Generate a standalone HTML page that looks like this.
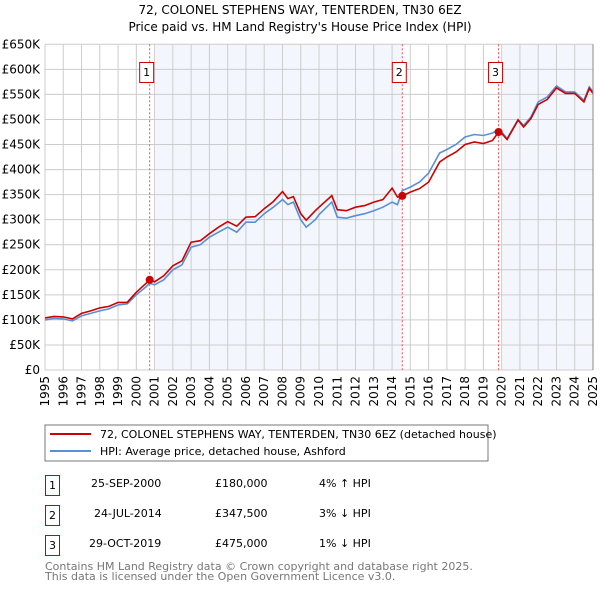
<!DOCTYPE html>
<html><head><meta charset="utf-8"><style>
body{margin:0;background:#fff;font-family:"Liberation Sans","DejaVu Sans",sans-serif;}
svg text{font-family:"DejaVu Sans","Liberation Sans",sans-serif;}
</style></head><body>
<svg id="c" width="600" height="590" xmlns="http://www.w3.org/2000/svg">
<text x="300" y="14" text-anchor="middle" font-size="12">72, COLONEL STEPHENS WAY, TENTERDEN, TN30 6EZ</text>
<text x="300" y="31" text-anchor="middle" font-size="12">Price paid vs. HM Land Registry's House Price Index (HPI)</text>
<g id="plot"></g>
<rect x="45" y="425" width="443" height="36" fill="#fff" stroke="#777"/>
<line x1="50" y1="434" x2="91" y2="434" stroke="#cc0000" stroke-width="2"/>
<text x="100" y="438" font-size="11">72, COLONEL STEPHENS WAY, TENTERDEN, TN30 6EZ (detached house)</text>
<line x1="50" y1="451" x2="91" y2="451" stroke="#5b8fd4" stroke-width="2"/>
<text x="100" y="455" font-size="11">HPI: Average price, detached house, Ashford</text>
<g font-size="11">
<rect x="45.5" y="475.5" width="14" height="20" fill="#fff" stroke="#cc0000"/><text x="52.5" y="489" text-anchor="middle">1</text>
<text x="91" y="487">25-SEP-2000</text><text x="215" y="487">£180,000</text><text x="319" y="487">4% ↑ HPI</text>
<rect x="45.5" y="505.5" width="14" height="20" fill="#fff" stroke="#cc0000"/><text x="52.5" y="519" text-anchor="middle">2</text>
<text x="94" y="517">24-JUL-2014</text><text x="215" y="517">£347,500</text><text x="319" y="517">3% ↓ HPI</text>
<rect x="45.5" y="535.5" width="14" height="20" fill="#fff" stroke="#cc0000"/><text x="52.5" y="549" text-anchor="middle">3</text>
<text x="89" y="547">29-OCT-2019</text><text x="215" y="547">£475,000</text><text x="319" y="547">1% ↓ HPI</text>
</g>
<text x="45" y="570" font-size="11" fill="#777">Contains HM Land Registry data © Crown copyright and database right 2025.</text>
<text x="45" y="580" font-size="11" fill="#777">This data is licensed under the Open Government Licence v3.0.</text>
</svg>
<script>
const hpiYears=[1995,1995.5,1996,1996.5,1997,1997.5,1998,1998.5,1999,1999.5,2000,2000.5,2000.73,2001,2001.5,2002,2002.5,2003,2003.5,2004,2004.5,2005,2005.5,2006,2006.5,2007,2007.5,2008,2008.3,2008.6,2009,2009.3,2009.8,2010,2010.7,2011,2011.5,2012,2012.5,2013,2013.5,2014,2014.3,2014.56,2015,2015.5,2016,2016.6,2017,2017.5,2018,2018.5,2019,2019.5,2019.83,2020,2020.3,2020.9,2021.2,2021.6,2022,2022.5,2023,2023.5,2024,2024.5,2024.8,2025];
const hpiValues=[100,103,102,98,108,113,118,122,130,132,150,165,173,170,180,200,210,245,250,265,275,285,275,295,295,312,325,340,330,335,300,285,300,310,335,305,303,308,312,318,325,335,330,358,365,375,393,433,440,450,465,470,468,473,480,475,462,500,488,505,535,545,567,555,555,538,565,555];
const priceValues=[104,107,106,102,113,118,124,127,135,135,155,172,180,176,188,208,218,255,258,272,285,296,287,305,306,322,336,356,342,346,312,299,318,325,348,320,318,325,328,335,340,363,345,347.5,355,362,375,415,425,435,450,455,452,458,475,472,460,499,485,502,530,540,563,552,552,535,562,552];
const saleYears=[2000.73,2014.56,2019.83];
const salePrices=[180000,347500,475000];
const saleLabels=["1","2","3"];
const yTicks=[0,50,100,150,200,250,300,350,400,450,500,550,600,650];
const xTicks=[1995,1996,1997,1998,1999,2000,2001,2002,2003,2004,2005,2006,2007,2008,2009,2010,2011,2012,2013,2014,2015,2016,2017,2018,2019,2020,2021,2022,2023,2024,2025];

const NS="http://www.w3.org/2000/svg";
const L=45,R=593,T=44.3,B=370;
const x=y=>L+(y-1995)/30*(R-L);
const yv=k=>B-k/650*(B-T);
const g=document.getElementById('plot');
function mk(tag,attrs){const e=document.createElementNS(NS,tag);for(const k in attrs)e.setAttribute(k,attrs[k]);g.appendChild(e);return e;}
let s=mk('rect',{x:x(2001.05),y:T,width:x(saleYears[1])-x(2001.05),height:B-T,fill:'#eef3fc','fill-opacity':0.7});


s=mk('rect',{x:x(2020.05),y:T,width:R-x(2020.05),height:B-T,fill:'#eef3fc','fill-opacity':0.7});


yTicks.forEach(t=>{
 const l=mk('line',{x1:L,x2:R,y1:yv(t),y2:yv(t),stroke:'#ccc'});
 
 
 const tx=mk('text',{x:40,y:yv(t)+4,'text-anchor':'end','font-size':12});
 tx.textContent=t===0?'£0':'£'+t+'K';
 
 
});
xTicks.forEach(t=>{
 const l=mk('line',{x1:x(t),x2:x(t),y1:T,y2:B,stroke:'#ccc'});
 
 
 const tx=mk('text',{x:0,y:0,'text-anchor':'end','font-size':12,transform:`translate(${x(t)+4},${B+6}) rotate(-90)`});
 tx.textContent=t;
 
 
});
saleYears.forEach((yr,i)=>{
 const l=mk('line',{x1:x(yr),x2:x(yr),y1:T,y2:B,stroke:'#e55','stroke-dasharray':'2,2'});
 
 
 const bx=mk('rect',{x:x(yr)-10,y:62.5,width:14,height:20,fill:'#fff',stroke:'#cc0000'});
 
 
 const tx=mk('text',{x:x(yr)-3,y:76,'text-anchor':'middle','font-size':11});
 tx.textContent=saleLabels[i];
 
 
});
function path(vals){return hpiYears.map((yr,i)=>(i?'L':'M')+x(yr).toFixed(1)+','+yv(vals[i]).toFixed(1)).join('');}
const hp=mk('path',{d:path(hpiValues),fill:'none',stroke:'#5b8fd4','stroke-width':1.6});


const pp=mk('path',{d:path(priceValues),fill:'none',stroke:'#cc0000','stroke-width':1.6});


saleYears.forEach((yr,i)=>{
 const c=mk('circle',{cx:x(yr),cy:yv(salePrices[i]/1000),r:4,fill:'#cc0000'});
 
 
});
const ax=mk('line',{x1:R,x2:R,y1:T,y2:B,stroke:'#888'});


</script>
</body></html>
